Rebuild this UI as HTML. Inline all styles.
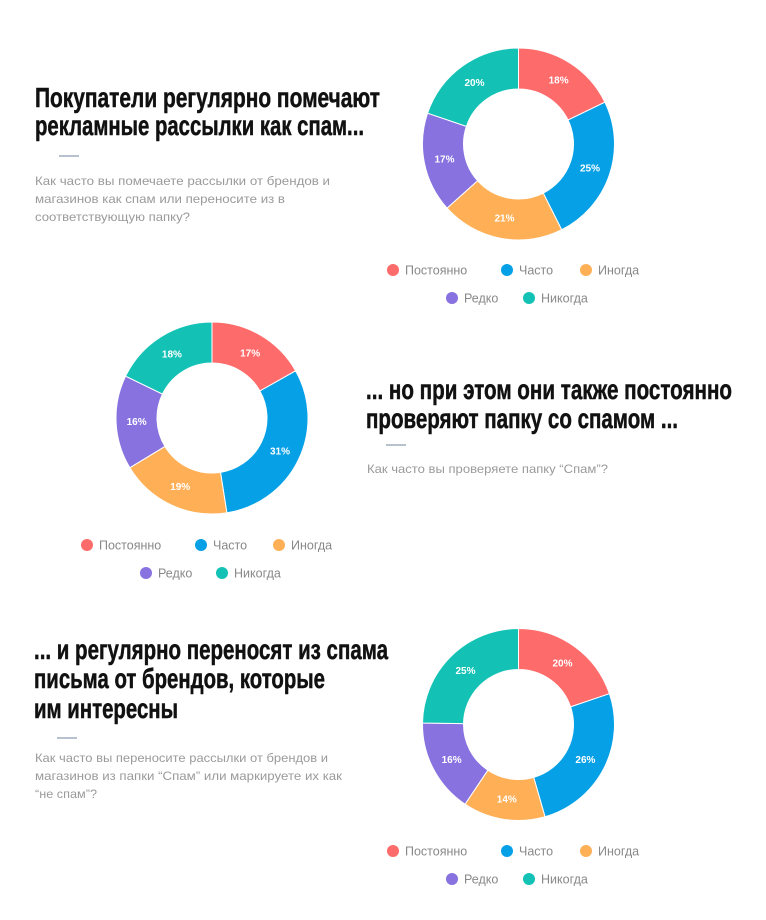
<!DOCTYPE html>
<html><head><meta charset="utf-8"><style>
html,body{margin:0;padding:0;background:#fff;}
svg{display:block;}
.t{font-family:"Liberation Sans Narrow","Liberation Sans",sans-serif;font-weight:bold;font-size:28px;fill:#111;stroke:#111;stroke-width:0.5;}
.s{font-family:"Liberation Sans",sans-serif;font-size:12px;fill:#9a9a9a;}
.l{font-family:"Liberation Sans",sans-serif;font-size:12.5px;fill:#888;}
.p{font-family:"Liberation Sans",sans-serif;font-size:10px;font-weight:bold;fill:#fff;text-anchor:middle;}
</style></head><body>
<svg id="s" width="766" height="920" xmlns="http://www.w3.org/2000/svg">
<text class="t" x="35" y="107" textLength="345" lengthAdjust="spacingAndGlyphs">Покупатели регулярно помечают</text>
<text class="t" x="35" y="135" textLength="329" lengthAdjust="spacingAndGlyphs">рекламные рассылки как спам...</text>
<rect x="59" y="155" width="20" height="2" fill="#b8c2cf"/>
<text class="s" x="35" y="185" textLength="295" lengthAdjust="spacingAndGlyphs">Как часто вы помечаете рассылки от брендов и</text>
<text class="s" x="35" y="203" textLength="250" lengthAdjust="spacingAndGlyphs">магазинов как спам или переносите из в</text>
<text class="s" x="35" y="221" textLength="155" lengthAdjust="spacingAndGlyphs">соответствующую папку?</text>

<text class="t" x="366" y="399" textLength="366" lengthAdjust="spacingAndGlyphs">... но при этом они также постоянно</text>
<text class="t" x="366" y="428" textLength="312" lengthAdjust="spacingAndGlyphs">проверяют папку со спамом ...</text>
<rect x="386" y="444" width="20" height="2" fill="#b8c2cf"/>
<text class="s" x="367" y="473" textLength="241" lengthAdjust="spacingAndGlyphs">Как часто вы проверяете папку “Спам”?</text>

<text class="t" x="34" y="659" textLength="354" lengthAdjust="spacingAndGlyphs">... и регулярно переносят из спама</text>
<text class="t" x="34" y="688" textLength="291" lengthAdjust="spacingAndGlyphs">письма от брендов, которые</text>
<text class="t" x="34" y="718" textLength="144" lengthAdjust="spacingAndGlyphs">им интересны</text>
<rect x="57" y="737" width="20" height="2" fill="#b8c2cf"/>
<text class="s" x="35" y="762" textLength="293" lengthAdjust="spacingAndGlyphs">Как часто вы переносите рассылки от брендов и</text>
<text class="s" x="35" y="780" textLength="307" lengthAdjust="spacingAndGlyphs">магазинов из папки “Спам” или маркируете их как</text>
<text class="s" x="35" y="798" textLength="62" lengthAdjust="spacingAndGlyphs">“не спам”?</text>
</svg>
<script>
var svg=document.getElementById('s'),NS='http://www.w3.org/2000/svg';
var C=['#fe6b6b','#06a0e6','#ffb057','#8872e0','#13c2b5'];
var N=['Постоянно','Часто','Иногда','Редко','Никогда'];
function el(t,a,txt){var e=document.createElementNS(NS,t);for(var k in a)e.setAttribute(k,a[k]);if(txt)e.textContent=txt;svg.appendChild(e);return e;}
function donut(cx,cy,vals){
 var R=96,r=55,tot=vals.reduce(function(a,b){return a+b},0),a=-Math.PI/2;
 vals.forEach(function(v,i){
  var b=a+v/tot*2*Math.PI,L=(b-a)>Math.PI?1:0;
  var p=function(rad,ang){return (cx+rad*Math.cos(ang)).toFixed(2)+' '+(cy+rad*Math.sin(ang)).toFixed(2);};
  el('path',{d:'M'+p(R,a)+' A'+R+' '+R+' 0 '+L+' 1 '+p(R,b)+' L'+p(r,b)+' A'+r+' '+r+' 0 '+L+' 0 '+p(r,a)+'Z',fill:C[i],stroke:'#fff','stroke-width':1});
  var m=(a+b)/2,rm=(R+r)/2;
  el('text',{class:'p',x:(cx+rm*Math.cos(m)).toFixed(1),y:(cy+rm*Math.sin(m)+3.5).toFixed(1)},v+'%');
  a=b;
 });
}
function legend(xs,y1,y2){
 var pos=[[xs[0],y1],[xs[1],y1],[xs[2],y1],[xs[3],y2],[xs[4],y2]];
 pos.forEach(function(q,i){el('circle',{cx:q[0],cy:q[1],r:6,fill:C[i]});el('text',{class:'l',x:q[0]+12,y:q[1]+4.5},N[i]);});
}
donut(518.5,144,[18,25,21,17,20]);legend([393,507,586,452,529],270,298);
donut(212,418,[17,31,19,16,18]);legend([87,201,279,146,222],545,573);
donut(518.5,724.5,[20,26,14,16,25]);legend([393,507,586,452,529],851,879);
</script>
</body></html>
